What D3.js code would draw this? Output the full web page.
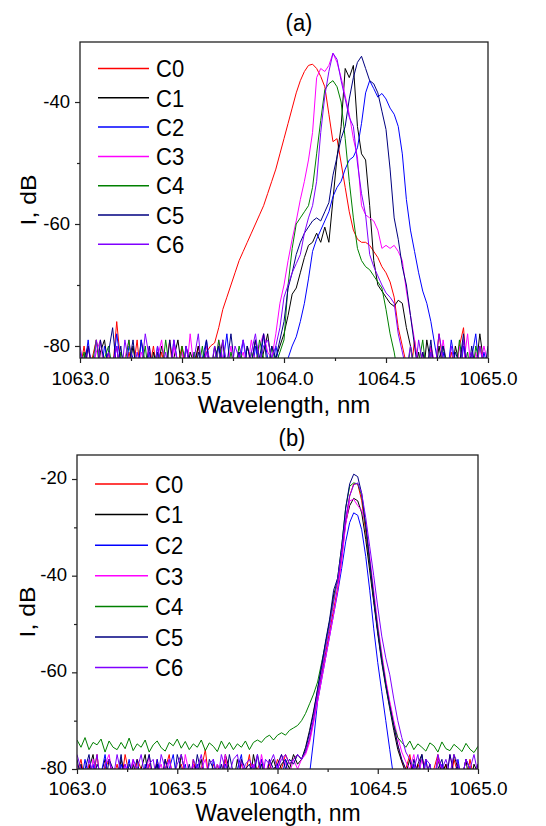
<!DOCTYPE html>
<html>
<head>
<meta charset="utf-8">
<script src="https://cdn.jsdelivr.net/npm/d3@7"></script>
<style>
  body { margin: 0; background: #fff; }
  svg text { font-family: 'Liberation Sans', Arial, sans-serif; fill: #000; }
</style>
</head>
<body>
<svg id="chart"></svg>
<script>
const width = 546;
const height = 826;

const seriesNames = ['C0', 'C1', 'C2', 'C3', 'C4', 'C5', 'C6'];
const seriesColors = ['#ff0000', '#000000', '#0000ff', '#ff00ff', '#008000', '#000080', '#8000ff'];

// OSA sampling grid, 0.02 nm step
const wavelengths = d3.range(101).map(i => +(1063 + i * 0.02).toFixed(2));
const xTicksMajor = [1063, 1063.5, 1064, 1064.5, 1065];
const xTicksMinor = [1063.25, 1063.75, 1064.25, 1064.75];

// ---- panel (a) spectra, dB ----
const a0 = [-84, -80, -85, -82, -79, -83, -86, -81, -84, -76,
  -83, -85, -81, -84, -79, -86, -82, -84, -80, -85,
  -81, -84, -79, -86, -83, -80, -85, -82, -84, -80,
  -83,
  -81, -80, -79.5, -77, -74, -72, -70, -68, -66,
  -64.5, -63, -61.5, -60, -58.5, -57, -55, -53, -51, -48.5,
  -46, -43.5, -41, -38.5, -36.5, -35, -34, -33.8, -34.5, -35.8,
  -37.5, -42, -46.5, -46, -50, -54, -58, -61, -62.5, -63,
  -63, -63.5, -64.5, -65.5, -67, -68, -69.5, -72, -77, -80,
  -83, -85, -79, -84, -81, -86, -80, -84, -78, -83,
  -85, -81, -84, -80, -77, -86, -82, -84, -80, -83, -85];
const a1 = [-85, -82, -80, -84, -86, -81, -79, -84, -83, -80,
  -86, -82, -84, -80, -85, -79, -83, -86, -81, -84,
  -80, -83, -85, -82, -79, -84, -86, -81, -83, -80,
  -84, -82, -85, -80, -83, -79, -86, -82, -84, -81,
  -85, -80, -83, -79, -84, -81, -78, -83, -82,
  -80, -78, -75, -71.5, -70.5, -68, -65.5, -63.5, -63, -61.5, -63,
  -60.5, -63, -56, -49, -44, -34.5, -36, -34, -44, -48.5,
  -49.5, -57, -66, -70, -71, -72, -73, -73.5, -72.5, -73,
  -77, -80, -84, -81, -86, -79, -83, -85, -80, -84,
  -82, -86, -80, -83, -79, -85, -81, -84, -78, -83, -86];
const a2 = [-81, -84, -79, -85, -82, -86, -80, -83, -84, -78,
  -83, -85, -80, -82, -86, -79, -84, -81, -85, -80,
  -84, -82, -86, -79, -83, -85, -80, -84, -81, -86,
  -82, -79, -84, -85, -80, -83, -78, -85, -82, -84,
  -79, -83, -86, -80, -84, -78, -82, -85, -80, -83, -84,
  -82, -80, -78.5, -76, -73, -69, -64.5, -62.5, -61,
  -59.5, -58, -55.5, -54, -53, -51, -49.5, -49, -47.5, -43.5,
  -38.5, -36.5, -37.8, -39.2, -38.6, -39.5, -41, -42, -44, -48.5,
  -56, -61, -64.5, -68, -71, -73, -76, -80, -84, -81,
  -85, -79, -83, -86, -80, -84, -82, -78, -85, -81, -84];
const a3 = [-83, -86, -80, -84, -81, -79, -85, -82, -84, -80,
  -85, -82, -79, -84, -86, -81, -83, -80, -85, -82,
  -79, -84, -86, -80, -83, -81, -85, -78, -84, -82,
  -86, -80, -83, -85, -79, -82, -84, -80, -86, -83,
  -81, -84, -79, -83, -80, -78, -81,
  -82, -78, -73,
  -70, -66, -62.5, -59.5, -56, -53, -49.5, -45, -36, -34.5,
  -35, -34, -32, -33.5, -36, -39, -42, -46, -49, -57,
  -58.5, -59, -59.5, -61, -64, -63.5, -64, -63.5, -64.5, -66,
  -71, -75, -79,
  -84, -81, -86, -80, -83, -85, -79, -84, -82, -86, -80, -83, -78, -85, -81, -84, -80, -83];
const a4 = [-84, -81, -86, -83, -79, -85, -82, -80, -84, -86,
  -81, -83, -79, -85, -82, -84, -80, -86, -83, -81,
  -85, -79, -84, -82, -86, -80, -83, -85, -81, -84,
  -80, -86, -82, -84, -79, -83, -85, -81, -84, -80,
  -83, -86, -81, -84, -79, -82, -85, -80, -83, -81,
  -79, -70, -64, -60, -59, -58, -57, -54, -48.5, -43,
  -38, -37, -36.5, -37.5, -40, -46, -53, -59, -64, -66,
  -67, -67.5, -68.5, -69.5, -70.5, -74, -78, -81,
  -85, -82, -86, -80, -84, -83, -79, -85, -81, -84, -86, -80,
  -83, -82, -85, -79, -84, -81, -86, -80, -83, -84, -82];
const a5 = [-82, -85, -80, -84, -86, -79, -83, -81, -77, -84,
  -80, -86, -83, -79, -85, -82, -84, -80, -86, -81,
  -83, -85, -79, -84, -82, -86, -80, -83, -85, -81,
  -84, -79, -86, -82, -80, -85, -83, -78, -84, -81,
  -85, -80, -83, -79, -82, -78, -84, -80,
  -82,
  -79, -76, -70.5, -68, -65, -63, -61.5, -60.5, -59.5, -59, -59.5,
  -58, -56.5, -52, -49, -46, -44, -39.5, -36, -33.5, -32.5,
  -34.5, -36.5, -37, -38.5, -41.5, -44.5, -51, -59, -62.5, -67,
  -70, -75, -80,
  -85, -81, -84, -79, -86, -82, -80, -84, -85, -81, -83, -78, -86, -80, -84, -82, -85, -80];
const a6 = [-80, -84, -82, -86, -79, -83, -85, -81, -84, -80,
  -86, -79, -83, -85, -81, -84, -78, -82, -86, -80,
  -84, -81, -85, -79, -83, -86, -80, -84, -82, -78,
  -85, -81, -84, -80, -86, -79, -83, -85, -80, -82,
  -79, -84, -81, -78, -83, -80, -79, -82,
  -80, -77,
  -72, -70, -68, -66.5, -65, -61.5, -59, -57, -53, -45,
  -39, -35, -32, -33, -36.5, -39.5, -42.5, -44, -50, -55,
  -58.5, -65, -67, -68.5, -70, -71.3, -72, -73, -78, -81,
  -84, -80, -85, -79, -83, -86, -81, -84, -78, -82,
  -85, -80, -84, -86, -79, -83, -81, -85, -80, -84, -82];
const aTicksMajor = [-80, -60, -40];
const aTicksMinor = [-70, -50];

// ---- panel (b) spectra, dB ----
const b0 = [-81, -78, -83, -79, -82, -77, -84, -80, -78, -82,
  -79, -83, -77, -81, -84, -78, -80, -83, -79, -82,
  -78, -84, -80, -77, -83, -81, -79, -82, -84, -78,
  -82, -80, -76, -83, -79, -81, -84, -78, -82, -80,
  -83, -79, -81, -77, -84, -80, -78, -82, -79, -81,
  -78, -80, -77, -79, -78, -77,
  -78, -76.5, -74, -70,
  -65, -60.5, -56, -51.5, -47, -42.5, -36.5, -29, -23.5, -21,
  -21, -24.5, -31, -38, -45, -51.5, -57, -62, -66.5, -71,
  -75, -78.5,
  -80, -77, -82, -79, -81, -78, -83, -80, -77, -82, -79, -84, -78, -81, -80, -83, -78, -82, -79];
const b1 = [-82, -79, -84, -80, -77, -83, -81, -78, -84, -80,
  -83, -78, -81, -84, -79, -82, -80, -77, -83, -81,
  -79, -84, -78, -82, -80, -83, -77, -81, -84, -79,
  -81, -78, -83, -80, -84, -79, -82, -77, -80, -83,
  -78, -82, -80, -84, -77, -81, -79, -83, -80, -78,
  -81, -79, -78, -80, -77, -79,
  -78, -75.5, -72, -68,
  -63.5, -59, -54, -49.5, -44, -41, -35, -29, -25.5, -24,
  -24.5, -27, -32.5, -39, -45.5, -52, -58, -63, -67.5, -72,
  -76, -78.5,
  -81, -78, -83, -79, -77, -82, -80, -84, -78, -81, -79, -83, -77, -80, -82, -78, -84, -79, -81];
const b2 = [-80, -83, -78, -82, -79, -84, -81, -77, -83, -80,
  -84, -79, -82, -78, -83, -80, -85, -79, -81, -83,
  -78, -82, -84, -80, -77, -83, -81, -79, -84, -82,
  -79, -83, -80, -85, -78, -82, -84, -79, -81, -83,
  -80, -77, -84, -81, -79, -83, -78, -82, -80, -84,
  -79, -82, -78, -83, -80, -81, -84,
  -82, -81, -74,
  -66, -61.5, -57, -52.5, -48, -43.5, -38.5, -33, -29, -27,
  -27.5, -30.5, -36, -43, -51, -58, -64, -70, -76, -82,
  -85, -83, -80, -84, -79, -82, -85, -78, -83, -81, -84, -79, -82, -80, -85, -78, -83, -81, -84, -80, -82];
const b3 = [-79, -82, -80, -84, -78, -81, -83, -79, -77, -82,
  -80, -84, -79, -81, -78, -83, -80, -82, -77, -84,
  -81, -79, -83, -78, -82, -80, -84, -77, -81, -79,
  -83, -80, -78, -82, -84, -79, -81, -77, -83, -80,
  -82, -78, -84, -80, -79, -83, -77, -81, -78, -82,
  -80, -77, -79, -81, -78, -80,
  -78, -77, -74.5, -70.5,
  -66, -61.5, -57, -52.5, -48, -43, -37, -29.5, -24.5, -24.2,
  -25.5, -26.5, -29, -36, -43, -50, -56, -61.5, -66, -70,
  -73.5, -76.5, -78.5,
  -80, -77, -82, -78, -81, -79, -84, -78, -80, -83, -77, -81, -79, -82, -78, -80, -83, -79];
const b4 = [-74, -75.5, -73.5, -76, -74.5, -75, -73.8, -76.5, -74.2, -75.5,
  -76, -74.5, -75.8, -73.6, -76.2, -74.8, -75.5, -74, -76.5, -75,
  -74.2, -75.6, -76.3, -74.5, -75.2, -73.8, -75.7, -74.3, -76, -74.8,
  -75.5, -74, -76.2, -74.6, -75.3, -76.4, -74.2, -75.8, -74.5, -76,
  -74.8, -75.5, -74.2, -76, -74.5,
  -74, -74.5, -73.5, -73, -74,
  -73, -72.5, -73, -72, -71.5, -71, -70, -68.5, -66.5, -64.5,
  -62, -58, -54, -49.5, -45, -40.5, -34, -26, -21.5, -20.8,
  -21, -23.5, -30, -37.5, -44.5, -51, -57, -62.5, -67, -71,
  -73.5, -74.5,
  -75.5, -74.2, -76, -74.8, -75.5, -76.3, -74.6, -75.2, -76.5, -74.4,
  -75.8, -76.2, -74.9, -75.6, -76.4, -74.7, -75.9, -76.6, -75.3];
const b5 = [-78, -82, -80, -77, -83, -79, -81, -84, -78, -80,
  -82, -77, -84, -79, -81, -78, -83, -80, -77, -82,
  -79, -83, -78, -81, -84, -77, -80, -82, -79, -83,
  -77, -81, -84, -78, -80, -82, -79, -83, -77, -81,
  -84, -78, -80, -79, -82, -77, -81, -83, -78, -80,
  -79, -77, -80, -78, -79, -77,
  -78, -76, -72.5, -68.5,
  -63.5, -58.5, -53.5, -49, -43, -40.5, -34, -26, -21, -19,
  -19.5, -23, -29.5, -37, -44.5, -51.5, -57.5, -62.5, -67, -71,
  -75, -78,
  -80, -83, -78, -81, -77, -82, -79, -84, -80, -78, -83, -77, -81, -79, -82, -78, -80, -83, -79];
const b6 = [-77, -80, -83, -78, -81, -77, -84, -79, -78, -82,
  -77, -81, -79, -83, -78, -80, -77, -82, -79, -78,
  -83, -77, -80, -78, -82, -79, -77, -81, -84, -78,
  -80, -77, -82, -79, -78, -83, -77, -80, -81, -78,
  -77, -82, -79, -78, -80, -77, -83, -78, -79, -77,
  -80, -78, -77, -79, -78, -77,
  -78, -76.5, -73.5, -69.5,
  -64.5, -60, -55, -50.5, -45.5, -41, -35, -28, -23.5, -21.2,
  -20.8, -23, -28, -34, -40, -46.5, -52.5, -57, -60.5, -65.5,
  -70, -73.5, -76.5, -78,
  -80, -77, -82, -78, -79, -83, -77, -80, -78, -81, -77, -79, -82, -78, -80, -77, -81];
const bTicksMajor = [-80, -60, -40, -20];
const bTicksMinor = [-70, -50, -30];

const svg = d3.select('#chart')
    .attr('width', width)
    .attr('height', height)
    .style('background', '#fff');

const stretch = 1.1; // glyphs in the source figure are a little taller than wide

function drawPanel(p) {
    const x = d3.scaleLinear().domain([1063, 1065]).range([p.left, p.right]);
    const y = d3.scaleLinear().domain(p.yDomain).range([p.bottom, p.top]);
    const g = svg.append('g');

    // clip so noise below the axis does not leak out
    svg.append('clipPath')
        .attr('id', 'clip-' + p.id)
        .append('rect')
        .attr('x', p.left)
        .attr('y', p.top)
        .attr('width', p.right - p.left)
        .attr('height', p.bottom - p.top);

    const line = d3.line()
        .x((d, i) => x(wavelengths[i]))
        .y(d => y(d));

    const curves = g.append('g').attr('clip-path', `url(#clip-${p.id})`);
    p.series.forEach((s, k) => {
        curves.append('path')
            .datum(s)
            .attr('d', line)
            .attr('fill', 'none')
            .attr('stroke', seriesColors[k])
            .attr('stroke-width', 1)
            .attr('stroke-linejoin', 'round');
    });

    // frame
    g.append('rect')
        .attr('x', p.left)
        .attr('y', p.top)
        .attr('width', p.right - p.left)
        .attr('height', p.bottom - p.top)
        .attr('fill', 'none')
        .attr('stroke', '#222')
        .attr('stroke-width', 1.3);

    // axes
    const xAxis = g.append('g')
        .attr('transform', `translate(0,${p.bottom})`)
        .call(d3.axisBottom(x).tickValues(xTicksMajor).tickSize(5).tickSizeOuter(0)
            .tickPadding(p.xPad).tickFormat(d3.format('.1f')));
    g.append('g')
        .attr('transform', `translate(0,${p.bottom})`)
        .call(d3.axisBottom(x).tickValues(xTicksMinor).tickSize(3).tickSizeOuter(0).tickFormat(''));

    const yAxis = g.append('g')
        .attr('transform', `translate(${p.left},0)`)
        .call(d3.axisLeft(y).tickValues(p.yMajor).tickSize(5).tickSizeOuter(0)
            .tickPadding(5).tickFormat(d => String(d)));
    g.append('g')
        .attr('transform', `translate(${p.left},0)`)
        .call(d3.axisLeft(y).tickValues(p.yMinor).tickSize(3).tickSizeOuter(0).tickFormat(''));

    g.selectAll('.domain').remove();
    g.selectAll('.tick line').attr('stroke', '#222').attr('stroke-width', 1.2);
    [xAxis, yAxis].forEach(a => a.attr('font-family', "'Liberation Sans', Arial, sans-serif"));
    xAxis.attr('font-size', 19);
    yAxis.attr('font-size', 18.5);
    yAxis.selectAll('text').attr('dy', p.yDy);

    // titles
    g.append('text')
        .attr('transform', `translate(${p.labelX},${p.labelY}) scale(1,${stretch})`)
        .attr('text-anchor', 'middle')
        .attr('font-size', 22)
        .text(p.label);

    g.append('text')
        .attr('x', p.xTitleX)
        .attr('y', p.xTitleY)
        .attr('text-anchor', 'middle')
        .attr('font-size', p.xTitleSize)
        .text('Wavelength, nm');

    g.append('text')
        .attr('transform', `translate(${p.yTitleX},${(p.top + p.bottom) / 2}) rotate(-90) scale(${stretch},1)`)
        .attr('text-anchor', 'middle')
        .attr('font-size', 22.5)
        .text('I, dB');

    // legend
    const legend = g.append('g');
    seriesNames.forEach((name, k) => {
        const ly = p.legendY + k * p.legendStep;
        legend.append('line')
            .attr('x1', p.legendX1).attr('x2', p.legendX2)
            .attr('y1', ly).attr('y2', ly)
            .attr('stroke', seriesColors[k])
            .attr('stroke-width', 1.5);
        legend.append('text')
            .attr('transform', `translate(${p.legendX2 + 7},${ly}) scale(1,${stretch})`)
            .attr('dy', '0.36em')
            .attr('font-size', 22)
            .text(name);
    });
}

drawPanel({
    id: 'a', label: '(a)', labelX: 299, labelY: 31,
    series: [a0, a1, a2, a3, a4, a5, a6],
    left: 80, right: 488, top: 42, bottom: 358,
    yDomain: [-81.97, -30.16], yMajor: aTicksMajor, yMinor: aTicksMinor, yDy: '0.3em',
    xPad: 9, xTitleX: 284, xTitleY: 412.5, xTitleSize: 24, yTitleX: 36,
    legendX1: 98, legendX2: 149, legendY: 68.5, legendStep: 29.3
});

drawPanel({
    id: 'b', label: '(b)', labelX: 292, labelY: 446,
    series: [b0, b1, b2, b3, b4, b5, b6],
    left: 77, right: 478, top: 455, bottom: 769,
    yDomain: [-80, -15.03], yMajor: bTicksMajor, yMinor: bTicksMinor, yDy: '0.25em',
    xPad: 8, xTitleX: 278, xTitleY: 821, xTitleSize: 23, yTitleX: 35,
    legendX1: 95, legendX2: 148, legendY: 484, legendStep: 30.6
});
</script>
</body>
</html>
